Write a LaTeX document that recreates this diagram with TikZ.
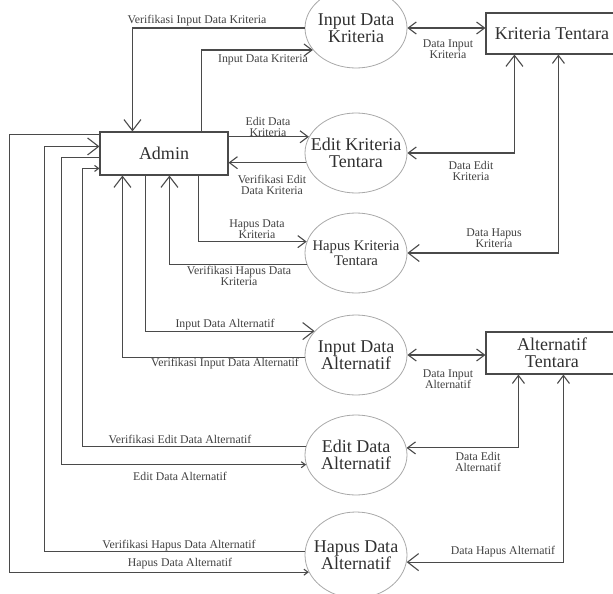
\documentclass[tikz,border=0pt]{standalone}
\usepackage{fontspec}
\setmainfont{Liberation Serif}
\usetikzlibrary{arrows.meta,shapes.geometric}
\definecolor{linec}{HTML}{4A4A4A}
\definecolor{ellc}{HTML}{A8A8A8}
\definecolor{txtc}{HTML}{303030}
\definecolor{lblc}{HTML}{404040}
\tikzset{
  Bg/.tip={Straight Barb[length=11pt,width=17pt]},
  Md/.tip={Straight Barb[length=8pt,width=12pt]},
  Sm/.tip={Straight Barb[length=4pt,width=6pt]},
  flow/.style={draw=linec,line width=1.1pt},
  boxnode/.style={rectangle,draw=linec,line width=1.1pt,inner sep=0pt,
    text=txtc,align=center,font=\fontsize{18}{17}\selectfont},
  proc/.style={ellipse,draw=ellc,line width=0.8pt,inner sep=0pt,
    minimum width=102pt,minimum height=80pt},
  ptext/.style={inner sep=0pt,text=txtc,align=center,
    font=\fontsize{18}{17}\selectfont},
  lbl/.style={inner sep=0pt,text=lblc,align=center,
    font=\fontsize{11.8}{11}\selectfont}
}
\begin{document}
\begin{tikzpicture}[x=1pt,y=-1pt]
\useasboundingbox (0,0) rectangle (613,594);

% entities and data stores
\node[boxnode,minimum width=128pt,minimum height=43pt] (admin) at (164,153.5) {Admin};
\node[boxnode,minimum width=132pt,minimum height=41pt] (kt) at (552,33.5) {Kriteria Tentara};
\node[boxnode,minimum width=132pt,minimum height=42pt] (alt) at (552,353) {Alternatif\\Tentara};

% processes
\node[proc] (e1) at (356,28) {};
\node[proc] (e2) at (356,153) {};
\node[proc] (e3) at (356,253) {};
\node[proc] (e4) at (356,355) {};
\node[proc] (e5) at (356,455) {};
\node[proc,minimum height=86pt] (e6) at (356,555) {};
\node[ptext] (e1t) at (e1) {Input Data\\Kriteria};
\node[ptext] (e2t) at (e2) {Edit Kriteria\\Tentara};
\node[ptext,font=\fontsize{14.7}{14.5}\selectfont] (e3t) at (e3) {Hapus Kriteria\\Tentara};
\node[ptext] (e4t) at (e4) {Input Data\\Alternatif};
\node[ptext] (e5t) at (e5) {Edit Data\\Alternatif};
\node[ptext] (e6t) at (e6) {Hapus Data\\Alternatif};

% flows between admin and the criteria processes
\draw[flow,-Bg] (e1.west) -| ([xshift=33pt]admin.north west);
\draw[flow,-Md] ([xshift=102pt]admin.north west) |- (e1.207);
\draw[flow,-Md] (e2.161 -| admin.east) -- (e2.161);
\draw[flow,-Md] (e2.191) -- (e2.191 -| admin.east);
\draw[flow,-Md] ([xshift=99pt]admin.south west) |- (e3.167);
\draw[flow,-Bg] (e3.193) -| ([xshift=70pt]admin.south west);

% flows between admin and the alternative processes
\draw[flow,-Bg] ([xshift=46pt]admin.south west) |- (e4.150);
\draw[flow,-Bg] (e4.183) -| ([xshift=23pt]admin.south west);
\draw[flow,-Sm] ([yshift=-26pt]admin.north west) -- ++(-38,0) |- (e5.191);
\draw[flow,-Sm] (e5.170) -| ([xshift=-17pt,yshift=-37pt]admin.north west)
  -- ([yshift=-37pt]admin.north west);
\draw[flow,-Sm] ([yshift=-3pt]admin.north west) -- ++(-90,0) |- (e6.200);
\draw[flow,-Bg] (e6.176) -| ([xshift=-55pt,yshift=-15pt]admin.north west)
  -- ([yshift=-15pt]admin.north west);

% flows to the data stores
\draw[flow,Md-Md] (e1.east) -- (e1.east -| kt.west);
\draw[flow,Md-Bg] (e2.east) -| ([xshift=29pt]kt.south west);
\draw[flow,Bg-Md] (e3.east) -| ([xshift=73pt]kt.south west);
\draw[flow,Md-Md] (e4.east) -- (e4.east -| alt.west);
\draw[flow,Md-Md] (e5.8) -| ([xshift=33pt]alt.south west);
\draw[flow,Bg-Md] (e6.352) -| ([xshift=78pt]alt.south west);

% flow labels
\node[lbl] (l1) at (197,21) {Verifikasi Input Data Kriteria};
\node[lbl] (l2) at (263,60) {Input Data Kriteria};
\node[lbl] (l3) at (268,127) {Edit Data\\Kriteria};
\node[lbl] (l4) at (272,185) {Verifikasi Edit\\Data Kriteria};
\node[lbl] (l5) at (257,229) {Hapus Data\\Kriteria};
\node[lbl] (l6) at (239,276) {Verifikasi Hapus Data\\Kriteria};
\node[lbl] (l7) at (225,325) {Input Data Alternatif};
\node[lbl] (l8) at (225,364) {Verifikasi Input Data Alternatif};
\node[lbl] (l9) at (180,439) {Verifikasi Edit Data Alternatif};
\node[lbl] (l10) at (180,476) {Edit Data Alternatif};
\node[lbl] (l11) at (179,546) {Verifikasi Hapus Data Alternatif};
\node[lbl] (l12) at (180,564) {Hapus Data Alternatif};
\node[lbl] (l13) at (448,49) {Data Input\\Kriteria};
\node[lbl] (l14) at (471,171) {Data Edit\\Kriteria};
\node[lbl] (l15) at (494,238) {Data Hapus\\Kriteria};
\node[lbl] (l16) at (448,379) {Data Input\\Alternatif};
\node[lbl] (l17) at (478,462) {Data Edit\\Alternatif};
\node[lbl] (l18) at (503,552) {Data Hapus Alternatif};
\end{tikzpicture}
\end{document}
